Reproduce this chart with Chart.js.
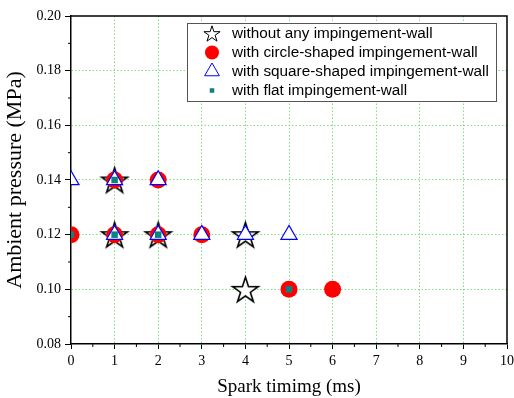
<!DOCTYPE html>
<html>
<head>
<meta charset="utf-8">
<script src="https://cdn.jsdelivr.net/npm/chart.js@4"></script>
<style>
  body { margin: 0; background: #fff; }
  canvas { display: block; }
</style>
</head>
<body>
<canvas id="chart" width="514" height="398"></canvas>
<script>
// Data
const seriesNames = [
    'without any impingement-wall',
    'with circle-shaped impingement-wall',
    'with square-shaped impingement-wall',
    'with flat impingement-wall'
];

const noWallX = [1, 1, 2, 4, 4];
const noWallY = [0.14, 0.12, 0.12, 0.12, 0.10];

const circleX = [0, 1, 1, 2, 2, 3, 5, 6];
const circleY = [0.12, 0.14, 0.12, 0.14, 0.12, 0.12, 0.10, 0.10];

const squareX = [0, 1, 1, 2, 2, 3, 4, 5];
const squareY = [0.14, 0.14, 0.12, 0.14, 0.12, 0.12, 0.12, 0.12];

const flatX = [0, 1, 1, 2, 5];
const flatY = [0.12, 0.14, 0.12, 0.12, 0.10];

const xTickValues = [0, 1, 2, 3, 4, 5, 6, 7, 8, 9, 10];
const yTickValues = [0.08, 0.10, 0.12, 0.14, 0.16, 0.18, 0.20];

const serif = "'Liberation Serif', 'Times New Roman', serif";
const sans = "'Liberation Sans', Arial, sans-serif";

function toPoints(xs, ys) {
    return xs.map((x, i) => ({ x: x, y: ys[i] }));
}

function starPath(ctx, cx, cy, R, r) {
    ctx.beginPath();
    for (let i = 0; i < 10; i++) {
        const rad = i % 2 === 0 ? R : r;
        const a = -Math.PI / 2 + i * Math.PI / 5;
        const px = cx + Math.cos(a) * rad;
        const py = cy + Math.sin(a) * rad;
        if (i === 0) ctx.moveTo(px, py); else ctx.lineTo(px, py);
    }
    ctx.closePath();
}

function makeStar(R) {
    const c = document.createElement('canvas');
    const s = Math.ceil(R * 2 + 4);
    c.width = s;
    c.height = s;
    const g = c.getContext('2d');
    starPath(g, s / 2, s / 2 + R * 0.1, R, R * 0.382);
    g.fillStyle = '#fff';
    g.fill();
    g.lineWidth = 1.6;
    g.strokeStyle = '#000';
    g.stroke();
    return c;
}

const bigStar = makeStar(13.5);

const styles = [
    { pointStyle: bigStar, radius: 13 },
    { pointStyle: 'circle', radius: 8.5, backgroundColor: '#ff0000', borderColor: '#ff0000', borderWidth: 0 },
    { pointStyle: 'triangle', radius: 9.3, backgroundColor: '#ffffff', borderColor: '#0000ff', borderWidth: 1.2 },
    { pointStyle: 'rect', radius: 4.6, backgroundColor: '#0e8080', borderColor: '#0e8080', borderWidth: 0 }
];

// frame, minor ticks and legend box
const decorPlugin = {
    id: 'decor',
    afterDatasetsDraw(chart) {
        const { ctx, chartArea: a, scales } = chart;
        ctx.save();
        ctx.strokeStyle = '#000';
        ctx.lineWidth = 1.5;
        ctx.beginPath();
        ctx.moveTo(a.left, a.top);
        ctx.lineTo(a.right, a.top);
        ctx.lineTo(a.right, a.bottom);
        ctx.stroke();

        // minor ticks
        ctx.lineWidth = 1;
        ctx.beginPath();
        for (let i = 0; i < xTickValues.length - 1; i++) {
            const px = scales.x.getPixelForValue((xTickValues[i] + xTickValues[i + 1]) / 2);
            ctx.moveTo(px, a.bottom);
            ctx.lineTo(px, a.bottom + 3);
        }
        for (let i = 0; i < yTickValues.length - 1; i++) {
            const py = scales.y.getPixelForValue((yTickValues[i] + yTickValues[i + 1]) / 2);
            ctx.moveTo(a.left, py);
            ctx.lineTo(a.left - 3, py);
        }
        ctx.stroke();

        // legend
        const lx = 187, ly = 23, lw = 309, lh = 78;
        ctx.fillStyle = '#fff';
        ctx.fillRect(lx, ly, lw, lh);
        ctx.strokeStyle = '#555';
        ctx.lineWidth = 1;
        ctx.strokeRect(lx + 0.5, ly + 0.5, lw, lh);

        ctx.font = '15.3px ' + sans;
        ctx.textBaseline = 'middle';
        ctx.textAlign = 'left';
        const rows = [33.5, 52.5, 71.5, 90.5];
        seriesNames.forEach((name, i) => {
            const cy = rows[i];
            if (i === 0) {
                starPath(ctx, 212, cy + 0.8, 8.5, 8.5 * 0.382);
                ctx.fillStyle = '#fff';
                ctx.fill();
                ctx.strokeStyle = '#000';
                ctx.lineWidth = 1;
                ctx.stroke();
            } else {
                const st = styles[i];
                ctx.fillStyle = st.backgroundColor;
                ctx.strokeStyle = st.borderColor;
                Chart.helpers.drawPoint(ctx, {
                    pointStyle: st.pointStyle,
                    radius: i === 1 ? 7 : (i === 2 ? 8.5 : 3.2),
                    rotation: 0,
                    borderWidth: st.borderWidth
                }, 212, cy);
            }
            ctx.fillStyle = '#000';
            ctx.fillText(name, 232, cy);
        });
        ctx.restore();
    }
};

const sets = [
    toPoints(noWallX, noWallY),
    toPoints(circleX, circleY),
    toPoints(squareX, squareY),
    toPoints(flatX, flatY)
];

const datasets = sets.map((pts, i) => ({
    label: seriesNames[i],
    data: pts,
    pointStyle: styles[i].pointStyle,
    pointRadius: styles[i].radius,
    pointHoverRadius: styles[i].radius,
    pointBackgroundColor: styles[i].backgroundColor,
    pointBorderColor: styles[i].borderColor,
    pointBorderWidth: styles[i].borderWidth || 0,
    showLine: false,
    clip: 0,
    order: 4 - i
}));

const gridColor = '#7fe07f';

new Chart(document.getElementById('chart'), {
    type: 'scatter',
    data: { datasets: datasets },
    plugins: [decorPlugin],
    options: {
        responsive: false,
        animation: false,
        devicePixelRatio: 1,
        layout: { autoPadding: false, padding: { top: 16, right: 7, left: 0, bottom: 0 } },
        plugins: {
            legend: { display: false },
            tooltip: { enabled: false }
        },
        scales: {
            x: {
                type: 'linear',
                min: 0,
                max: 10,
                afterFit: s => { s.height = 54; s.paddingRight = 0; s.paddingLeft = 0; },
                afterBuildTicks: s => { s.ticks = xTickValues.map(v => ({ value: v })); },
                ticks: {
                    color: '#000',
                    font: { family: serif, size: 14 },
                    padding: 4,
                    maxRotation: 0,
                    autoSkip: false
                },
                grid: {
                    color: c => (c.tick && c.tick.value > 0 && c.tick.value < 10) ? gridColor : 'rgba(0,0,0,0)',
                    lineWidth: 1,
                    tickColor: '#000',
                    tickLength: 5
                },
                border: { color: '#000', width: 1.5, dash: [1.5, 2] },
                title: {
                    display: true,
                    text: 'Spark timimg (ms)',
                    color: '#000',
                    font: { family: serif, size: 19, lineHeight: 1.2 },
                    padding: { top: 0, bottom: 0 }
                }
            },
            y: {
                type: 'linear',
                min: 0.08,
                max: 0.20,
                afterFit: s => { s.width = 71; s.paddingTop = 0; s.paddingBottom = 0; },
                afterBuildTicks: s => { s.ticks = yTickValues.map(v => ({ value: v })); },
                ticks: {
                    color: '#000',
                    font: { family: serif, size: 14 },
                    padding: 4,
                    autoSkip: false,
                    callback: v => v.toFixed(2)
                },
                grid: {
                    color: c => (c.tick && c.tick.value > 0.081 && c.tick.value < 0.199) ? gridColor : 'rgba(0,0,0,0)',
                    lineWidth: 1,
                    tickColor: '#000',
                    tickLength: 6
                },
                border: { color: '#000', width: 1.5, dash: [1.5, 2] },
                title: {
                    display: true,
                    text: 'Ambient pressure (MPa)',
                    color: '#000',
                    font: { family: serif, size: 22, lineHeight: 1.2 },
                    padding: { top: 2, bottom: 0 }
                }
            }
        }
    }
});
</script>
</body>
</html>
